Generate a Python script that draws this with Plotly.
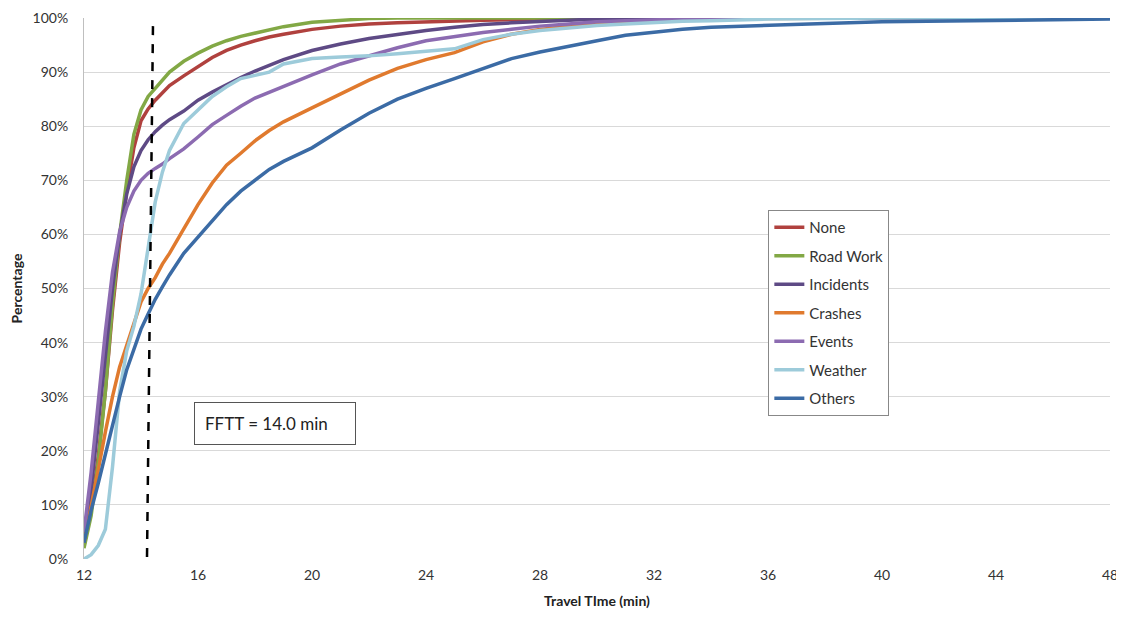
import plotly.graph_objects as go

# Travel time grid (min)
travel_time = [12, 12.25, 12.5, 12.75, 13, 13.25, 13.5, 13.75, 14, 14.25, 14.5, 14.75,
               15, 15.5, 16, 16.5, 17, 17.5, 18, 18.5, 19, 20, 21, 22, 23, 24, 25, 26,
               27, 28, 29, 30, 31, 32, 33, 34, 36, 38, 40, 44, 48]

none_pct = [2.5, 9, 19, 31, 46, 58.5, 68, 76, 81, 83.2, 84.8, 86.2,
            87.5, 89.3, 91, 92.7, 94, 95, 95.8, 96.5, 97, 97.9, 98.5, 98.9, 99.1, 99.3, 99.4, 99.6,
            99.7, 99.8, 99.9, 100, 100, 100, 100, 100, 100, 100, 100, 100, 100]
roadwork_pct = [2, 8, 18, 31, 47, 60, 70, 78.5, 83, 85.5, 87, 88.5,
                90, 92, 93.5, 94.8, 95.8, 96.6, 97.2, 97.8, 98.4, 99.2, 99.5, 99.9, 100, 100, 100, 100,
                100, 100, 100, 100, 100, 100, 100, 100, 100, 100, 100, 100, 100]
incidents_pct = [4, 13, 25, 38, 50, 60, 67.5, 72.5, 75.5, 77.5, 79, 80.2,
                 81.2, 82.8, 84.8, 86.3, 87.7, 89, 90.2, 91.3, 92.3, 94, 95.2, 96.2, 97, 97.7, 98.3, 98.8,
                 99.1, 99.4, 99.6, 99.8, 99.9, 100, 100, 100, 100, 100, 100, 100, 100]
crashes_pct = [3, 9.5, 16.5, 23.5, 30, 35.5, 39.5, 43, 47.5, 50, 52, 54.5,
               56.5, 61, 65.5, 69.5, 72.8, 75, 77.3, 79.2, 80.8, 83.4, 86, 88.5, 90.7, 92.3, 93.6, 95.6,
               97, 97.9, 98.5, 99, 99.3, 99.5, 99.6, 99.8, 99.9, 100, 100, 100, 100]
events_pct = [5, 16, 29, 42, 53, 60.5, 65, 68, 70, 71.3, 72.2, 73,
              74, 75.8, 78, 80.3, 82, 83.7, 85.2, 86.3, 87.3, 89.5, 91.5, 93, 94.5, 95.8, 96.6, 97.3,
              97.9, 98.5, 98.9, 99.3, 99.5, 99.7, 99.8, 99.9, 100, 100, 100, 100, 100]
weather_pct = [0, 0.8, 2.5, 5.5, 17, 31, 38.5, 43, 49, 58, 66, 71.5,
               75.5, 80.5, 83, 85.5, 87.3, 88.8, 89.4, 90, 91.5, 92.5, 92.8, 93, 93.4, 93.8, 94.3, 96,
               97, 97.7, 98.2, 98.6, 98.9, 99.2, 99.4, 99.5, 99.8, 99.9, 100, 100, 100]
others_pct = [3, 9, 14, 19.5, 25, 30, 35, 39, 42.5, 45.3, 48, 50.3,
              52.5, 56.5, 59.5, 62.5, 65.5, 68, 70, 72, 73.5, 76, 79.3, 82.4, 85, 87, 88.8, 90.7,
              92.5, 93.7, 94.8, 95.8, 96.8, 97.4, 97.9, 98.3, 98.7, 99, 99.3, 99.6, 99.8]

series_names = ["None", "Road Work", "Incidents", "Crashes", "Events", "Weather", "Others"]
series_values = [none_pct, roadwork_pct, incidents_pct, crashes_pct, events_pct, weather_pct, others_pct]
series_colors = ["#B0413E", "#82A845", "#5E4A85", "#E07A2E", "#8C6BB1", "#9DCBDA", "#3B6BA5"]

x_ticks = [12, 16, 20, 24, 28, 32, 36, 40, 44, 48]
y_ticks = [0, 0.1, 0.2, 0.3, 0.4, 0.5, 0.6, 0.7, 0.8, 0.9, 1.0]

fftt_line_x = [14.42, 14.21]
fftt_line_y = [0.985, 0.0]

FONT = "Lato, 'Open Sans', sans-serif"

fig = go.Figure()
for i, (name, vals, col) in enumerate(zip(series_names, series_values, series_colors)):
    fig.add_trace(go.Scatter(
        x=travel_time, y=[v / 100 for v in vals], mode="lines", name=name,
        line=dict(color=col, width=3.5), legendgroup=f"g{i}",
    ))

fig.add_trace(go.Scatter(
    x=fftt_line_x, y=fftt_line_y, mode="lines", showlegend=False,
    line=dict(color="black", width=2.5, dash="dash"), hoverinfo="skip",
))

fig.add_annotation(
    x=18.7, y=0.25, xref="x", yref="y", text="FFTT = 14.0 min", showarrow=False,
    font=dict(family=FONT, size=17, color="#222"),
    bordercolor="#555", borderwidth=1, borderpad=10, bgcolor="white",
    width=140, align="left",
)

fig.update_layout(
    width=1116, height=606,
    margin=dict(l=76, r=14, t=10, b=55, autoexpand=False),
    plot_bgcolor="white", paper_bgcolor="white",
    font=dict(family=FONT, size=14, color="#333"),
    showlegend=True,
    legend=dict(
        x=0.667, y=0.645, xanchor="left", yanchor="top",
        bordercolor="#888", borderwidth=1, bgcolor="white",
        font=dict(family=FONT, size=15, color="#333"),
        tracegroupgap=6, itemwidth=30,
    ),
    xaxis=dict(
        range=[12, 48], tickvals=x_ticks, showgrid=False, zeroline=False,
        showline=False, ticks="", ticklabelstandoff=6, automargin=False,
        ticklabeloverflow="allow",
        title=dict(text="<b>Travel TIme (min)</b>", font=dict(size=14, color="#222"), standoff=14),
    ),
    yaxis=dict(
        range=[0, 1.0], tickvals=y_ticks, tickformat=".0%", showgrid=True,
        gridcolor="#D9D9D9", gridwidth=1, zeroline=False, automargin=False,
        showline=True, linecolor="#BFBFBF", linewidth=1, ticks="", ticklabelstandoff=12,
        title=dict(text="<b>Percentage</b>", font=dict(size=14, color="#222"), standoff=6),
    ),
)

fig.write_html("out.html")
